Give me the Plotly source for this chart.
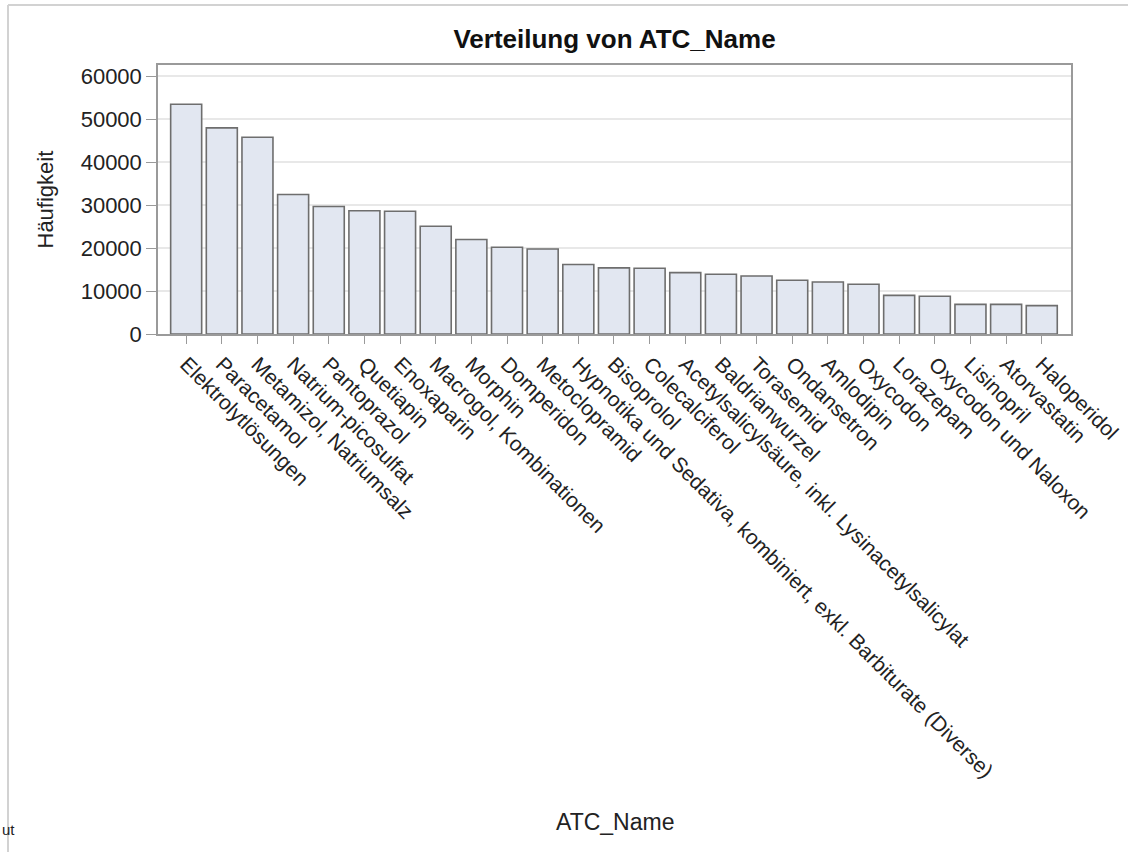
import plotly.graph_objects as go

categories = [
    "Elektrolytlösungen", "Paracetamol", "Metamizol, Natriumsalz", "Natrium-picosulfat",
    "Pantoprazol", "Quetiapin", "Enoxaparin", "Macrogol, Kombinationen", "Morphin",
    "Domperidon", "Metoclopramid",
    "Hypnotika und Sedativa, kombiniert, exkl. Barbiturate (Diverse)",
    "Bisoprolol", "Colecalciferol", "Acetylsalicylsäure, inkl. Lysinacetylsalicylat",
    "Baldrianwurzel", "Torasemid", "Ondansetron", "Amlodipin", "Oxycodon", "Lorazepam",
    "Oxycodon und Naloxon", "Lisinopril", "Atorvastatin", "Haloperidol",
]
counts = [
    53500, 48000, 45800, 32500, 29700, 28700, 28600, 25100, 22000,
    20200, 19800, 16200, 15400, 15300, 14300, 13900, 13500, 12500,
    12100, 11600, 9000, 8800, 6900, 6900, 6600,
]
y_ticks = [0, 10000, 20000, 30000, 40000, 50000, 60000]

FONT = "Liberation Sans, Arial, sans-serif"

fig = go.Figure(
    go.Bar(
        x=categories,
        y=counts,
        marker=dict(color="#e2e7f1", line=dict(color="#6e6e6e", width=1.6)),
    )
)

# plot area pixel geometry (page pixels, body margin removed below)
L, R, T, B = 158, 1071, 65, 334
W, H = R - L, B - T

def px_x(p):
    return (p - L) / W

def px_y(p):
    return (B - p) / H

fig.update_layout(
    width=1128,
    height=852,
    margin=dict(l=L, r=1128 - R, t=T, b=852 - B, autoexpand=False),
    paper_bgcolor="white",
    plot_bgcolor="white",
    bargap=0.13,
    showlegend=False,
    font=dict(family=FONT, color="#222222"),
    title=dict(
        text="<b>Verteilung von ATC_Name</b>",
        x=0.5, xref="paper", xanchor="center",
        y=1 - 39 / 852, yref="container", yanchor="middle",
        font=dict(size=26, color="#111111", family=FONT),
    ),
)

fig.update_xaxes(
    range=[-0.79, len(categories) - 1 + 0.82],
    tickangle=45,
    tickfont=dict(size=21, color="#222222"),
    ticks="outside", ticklen=8, tickcolor="#9a9a9a", tickwidth=1,
    showline=True, linecolor="#9a9a9a", linewidth=1.5, mirror=True,
    showgrid=False,
)
fig.update_yaxes(
    range=[0, 62640],
    tickvals=y_ticks,
    ticktext=[str(v) for v in y_ticks],
    tickfont=dict(size=22, color="#222222"),
    ticks="outside", ticklen=10, tickcolor="#9a9a9a", tickwidth=1,
    showline=True, linecolor="#9a9a9a", linewidth=1.5, mirror=True,
    showgrid=True, gridcolor="#e8e8e8", gridwidth=1.5,
    zeroline=False,
)

annotations = [
    dict(text="Häufigkeit", xref="paper", yref="paper", x=px_x(45), y=0.5,
         textangle=-90, showarrow=False, xanchor="center", yanchor="middle",
         font=dict(size=22, color="#222222", family=FONT)),
    dict(text="ATC_Name", xref="paper", yref="paper", x=0.5, y=px_y(822),
         showarrow=False, xanchor="center", yanchor="middle",
         font=dict(size=23, color="#222222", family=FONT)),
    dict(text="ut", xref="paper", yref="paper", x=px_x(0), y=px_y(829),
         showarrow=False, xanchor="left", yanchor="middle",
         font=dict(size=15, color="#222222", family=FONT)),
]
fig.update_layout(annotations=annotations)

shapes = [
    dict(type="line", xref="paper", yref="paper",
         x0=px_x(8), x1=px_x(1128), y0=px_y(5), y1=px_y(5),
         line=dict(color="#d2d2d2", width=2)),
    dict(type="line", xref="paper", yref="paper",
         x0=px_x(8), x1=px_x(8), y0=px_y(5), y1=px_y(852),
         line=dict(color="#d2d2d2", width=2)),
]
fig.update_layout(shapes=shapes)

fig.write_html(
    "out.html",
    config={"displayModeBar": False},
    post_script="document.body.style.margin='0';document.body.style.overflow='hidden';",
)
